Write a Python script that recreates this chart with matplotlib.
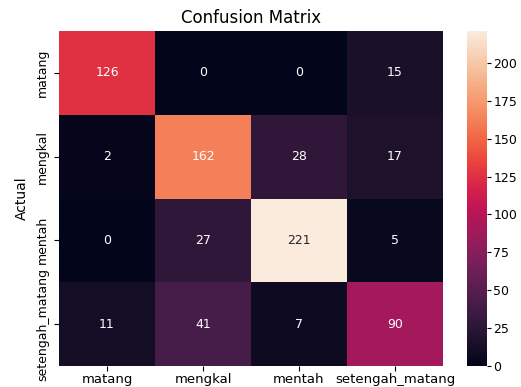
import matplotlib
matplotlib.use("Agg")
import matplotlib.pyplot as plt
import seaborn as sns
import numpy as np

labels = ["matang", "mengkal", "mentah", "setengah_matang"]
row_matang = [126, 0, 0, 15]
row_mengkal = [2, 162, 28, 17]
row_mentah = [0, 27, 221, 5]
row_setengah = [11, 41, 7, 90]

cm = np.array([row_matang, row_mengkal, row_mentah, row_setengah])

W, H = 521, 387
fig = plt.figure(figsize=(W / 100, H / 100), dpi=100)
ax = fig.add_axes([59 / W, 1 - 366 / H, (443 - 59) / W, (366 - 31) / H])
cax = fig.add_axes([467 / W, 1 - 366 / H, 20 / W, (366 - 31) / H])

sns.heatmap(cm, annot=True, fmt="d", xticklabels=labels, yticklabels=labels,
            ax=ax, cbar_ax=cax, annot_kws={"fontsize": 9})
ax.set_title("Confusion Matrix", fontsize=12)
ax.set_ylabel("Actual", fontsize=10, labelpad=5)
ax.tick_params(axis="x", labelsize=9.5, pad=1.5)
ax.tick_params(axis="y", labelsize=9, pad=3.5)
for t in ax.get_yticklabels():
    t.set_rotation(90)
    t.set_va("center")
cax.tick_params(labelsize=9, pad=1.5, length=3)
cax.set_yticks(np.arange(0, 201, 25))

fig.savefig("out.png", dpi=100)
